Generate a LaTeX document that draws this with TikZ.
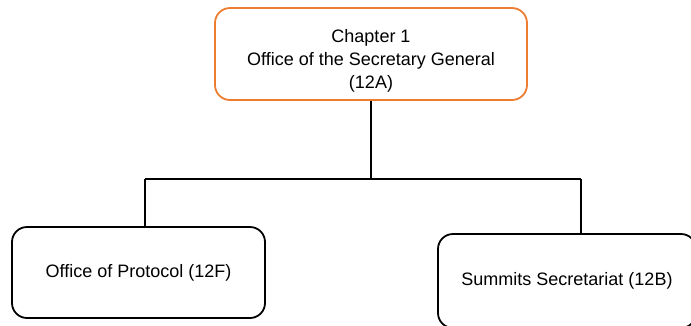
\documentclass[tikz,border=0pt]{standalone}
\usepackage{fontspec}
\setmainfont{Liberation Sans}
\definecolor{orgorange}{HTML}{ED7D31}
\begin{document}
\begin{tikzpicture}[x=1pt,y=-1pt,
  box/.style={draw=black,line width=1.8pt,rounded corners=15pt,fill=white,inner sep=0pt,align=center,font=\fontsize{18}{23}\selectfont},
  conn/.style={line width=1.8pt,draw=black}]
\useasboundingbox (0,0) rectangle (691,325);
\clip (0,0) rectangle (691,325);
\node[box,draw=orgorange,minimum width=312pt,minimum height=92pt] (top) at (371,54) {\rule{0pt}{26pt}Chapter 1\\Office of the Secretary General\\(12A)};
\node[box,minimum width=253pt,minimum height=91pt] (left) at (138.5,272.5) {Office of Protocol (12F)};
\node[box,minimum width=258pt,minimum height=94pt] (right) at (567,281) {Summits Secretariat (12B)};
\coordinate (hl) at (145,179);
\coordinate (hr) at (581,179);
\draw[conn] (top.south) -- (top.south |- hl);
\draw[conn] (hl) -- (hr);
\draw[conn] (hl) -- (hl |- left.north);
\draw[conn] (hr) -- (hr |- right.north);
\end{tikzpicture}
\end{document}
